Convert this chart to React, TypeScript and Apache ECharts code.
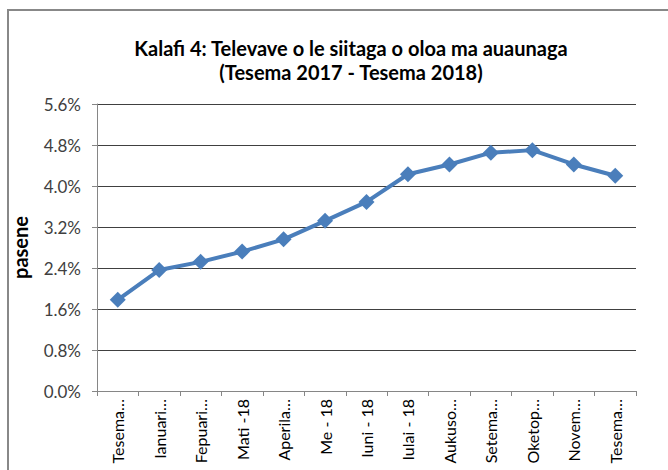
import React, { useEffect, useRef } from "react";
import * as echarts from "echarts";

const categories = [
  "Tesema…", "Ianuari…", "Fepuari…", "Mati -18", "Aperila…", "Me - 18", "Iuni - 18",
  "Iulai - 18", "Aukuso…", "Setema…", "Oketop…", "Novem…", "Tesema…",
];
const values = [1.78, 2.36, 2.52, 2.72, 2.96, 3.32, 3.69, 4.23, 4.42, 4.65, 4.7, 4.42, 4.2];
const titleLines = ["Kalafi 4: Televave o le siitaga o oloa ma auaunaga", "(Tesema 2017 - Tesema 2018)"];
const yAxisName = "pasene";

const FONT = "Lato, 'Open Sans', sans-serif";

export default function App() {
  const ref = useRef<HTMLDivElement>(null);
  useEffect(() => {
    const chart = echarts.init(ref.current!, null, { renderer: "svg" });
    chart.setOption({
      animation: false,
      backgroundColor: "#fff",
      graphic: [
        {
          type: "rect",
          shape: { x: 8, y: 10, width: 700, height: 500 },
          style: { fill: "none", stroke: "#888", lineWidth: 2 },
          silent: true,
        },
      ],
      title: {
        text: titleLines.join("\n"),
        left: 346,
        textAlign: "center",
        top: 31,
        textStyle: { fontFamily: FONT, fontSize: 20, fontWeight: "bold", color: "#000", lineHeight: 24 },
      },
      grid: { left: 97, right: 32, top: 104, bottom: 79, containLabel: false },
      xAxis: {
        type: "category",
        data: categories,
        boundaryGap: true,
        axisLine: { lineStyle: { color: "#868686", width: 1 } },
        axisTick: { show: true, alignWithLabel: false, length: 5, lineStyle: { color: "#868686" } },
        axisLabel: { rotate: 90, interval: 0, fontFamily: FONT, fontSize: 16, color: "#000", margin: 8 },
      },
      yAxis: {
        type: "value",
        min: 0,
        max: 5.6,
        interval: 0.8,
        name: yAxisName,
        nameLocation: "middle",
        nameGap: 67,
        nameTextStyle: { fontFamily: FONT, fontSize: 20, fontWeight: "bold", color: "#000" },
        axisLine: { show: true, lineStyle: { color: "#868686" } },
        axisTick: { show: true, inside: false, length: 5, lineStyle: { color: "#868686" } },
        splitLine: { lineStyle: { color: "#404040", width: 1 } },
        axisLabel: {
          fontFamily: FONT,
          fontSize: 17,
          color: "#404040",
          margin: 16,
          formatter: (v: number) => v.toFixed(1) + "%",
        },
      },
      series: [
        {
          type: "line",
          data: values,
          symbol: "diamond",
          symbolSize: 16,
          lineStyle: { color: "#4A7EBB", width: 4 },
          itemStyle: { color: "#4A7EBB" },
        },
      ],
    });
    return () => chart.dispose();
  }, []);
  return (
    <div
      ref={ref}
      style={{ position: "absolute", left: 0, top: 0, width: 668, height: 470 }}
    />
  );
}
